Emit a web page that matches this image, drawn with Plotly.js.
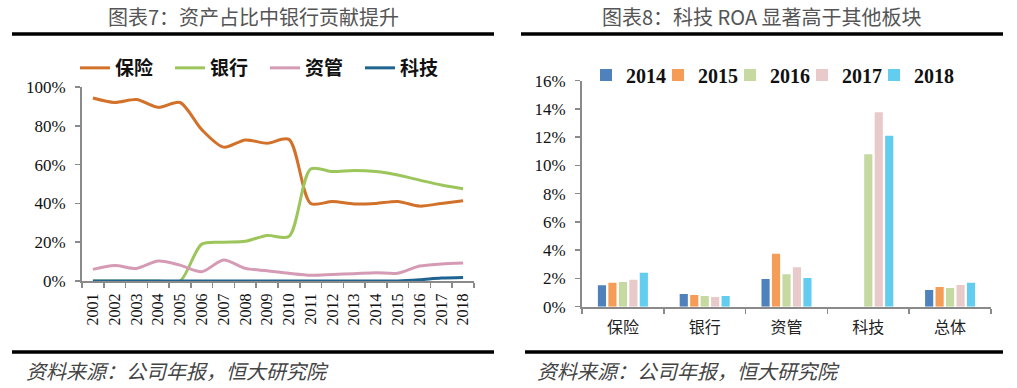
<!DOCTYPE html>
<html>
<head>
<meta charset="utf-8">
<script src="https://cdn.plot.ly/plotly-3.0.1.min.js"></script>
<style>
html,body{margin:0;padding:0;background:#fff;}
#chart{width:1017px;height:388px;}
#chart g.scrollbox{clip-path:none !important;}
</style>
</head>
<body>
<div id="chart"></div>
<script>
// ---- Chart 7 data: share of assets by segment ----
const years = ["2001","2002","2003","2004","2005","2006","2007","2008","2009","2010","2011","2012","2013","2014","2015","2016","2017","2018"];
const insurance = [0.943,0.920,0.935,0.895,0.920,0.780,0.690,0.727,0.710,0.730,0.400,0.410,0.397,0.400,0.410,0.386,0.400,0.414];
const banking   = [0,0,0,0,0,0.190,0.200,0.205,0.235,0.229,0.577,0.564,0.570,0.564,0.546,0.520,0.495,0.476];
const assetMgmt = [0.060,0.080,0.065,0.103,0.082,0.048,0.108,0.065,0.053,0.040,0.030,0.034,0.038,0.043,0.040,0.077,0.088,0.093];
const tech      = [0,0,0,0,0,0,0,0,0,0,0,0,0,0,0,0.006,0.015,0.018];
const lineNames = ["保险","银行","资管","科技"];

// ---- Chart 8 data: ROA by segment ----
const segments = ["保险","银行","资管","科技","总体"];
const roaYears = ["2014","2015","2016","2017","2018"];
const roa2014 = [0.0152,0.0090,0.0196,0,0.0118];
const roa2015 = [0.0170,0.0083,0.0374,0,0.0140];
const roa2016 = [0.0175,0.0076,0.0230,0.1080,0.0133];
const roa2017 = [0.0190,0.0069,0.0280,0.1376,0.0154];
const roa2018 = [0.0240,0.0076,0.0203,0.1210,0.0170];

const lineColors = ["#d2722a","#9cc55b","#d59bb4","#1f6491"];
const barColors  = ["#4f81bd","#f59d56","#c5d9a0","#e9caca","#63cdf0"];

const W = 1017, H = 388;
const px = v => v / W;
const py = v => 1 - v / H;

const lineSeries = [insurance, banking, assetMgmt, tech];
const traces = [];
lineSeries.forEach((s, i) => {
  traces.push({
    type: "scatter", mode: "lines", x: years, y: s, name: lineNames[i],
    xaxis: "x", yaxis: "y", legend: "legend",
    line: {color: lineColors[i], width: 3, shape: "spline", smoothing: 0.8},
    hoverinfo: "x+y"
  });
});
const roaSeries = [roa2014, roa2015, roa2016, roa2017, roa2018];
roaSeries.forEach((s, i) => {
  traces.push({
    type: "bar", x: segments, y: s, name: roaYears[i],
    xaxis: "x2", yaxis: "y2", legend: "legend2",
    marker: {color: barColors[i], line: {width: 0}}
  });
});

const serif = "Liberation Serif, Times New Roman, serif";
const cjk = "Noto Sans CJK SC, Noto Sans, sans-serif";
const axisCommon = {
  showgrid: false, zeroline: false, showline: true,
  linecolor: "#8a8a8a", linewidth: 2,
  ticks: "outside", ticklen: 5, tickwidth: 1.5, tickcolor: "#8a8a8a",
  fixedrange: true
};

const layout = {
  width: W, height: H,
  margin: {l: 0, r: 0, t: 0, b: 0},
  paper_bgcolor: "#ffffff", plot_bgcolor: "#ffffff",
  showlegend: true,
  barmode: "group", bargap: 0.36, bargroupgap: 0.22,
  xaxis: Object.assign({}, axisCommon, {
    domain: [px(82), px(474)], anchor: "y", type: "category",
    range: [-0.5, years.length - 0.5],
    tickson: "boundaries", tickangle: -90, ticklabelstandoff: 4,
    tickfont: {family: serif, size: 16, color: "#111"}
  }),
  yaxis: Object.assign({}, axisCommon, {
    domain: [py(281), py(87)], anchor: "x", range: [0, 1.0],
    dtick: 0.2, tickformat: ".0%", ticklabelstandoff: 6,
    tickfont: {family: serif, size: 17, color: "#111"}
  }),
  xaxis2: Object.assign({}, axisCommon, {
    domain: [px(582), px(991)], anchor: "y2", type: "category",
    tickson: "boundaries", ticklabelstandoff: 5,
    tickfont: {family: cjk, size: 16, color: "#222"}
  }),
  yaxis2: Object.assign({}, axisCommon, {
    domain: [py(306.7), py(80.7)], anchor: "x2", range: [0, 0.16],
    dtick: 0.02, tickformat: ".0%", ticklabelstandoff: 6,
    tickfont: {family: serif, size: 17, color: "#111"}
  }),
  legend: {
    orientation: "h", x: px(75), xanchor: "left", y: py(68), yanchor: "middle",
    font: {family: cjk, size: 19, color: "#111", weight: "bold"},
    bgcolor: "rgba(0,0,0,0)", entrywidth: 50, entrywidthmode: "pixels",
    itemclick: false, itemdoubleclick: false
  },
  legend2: {
    orientation: "h", x: px(586), xanchor: "left", y: py(75), yanchor: "middle",
    font: {family: serif, size: 20, color: "#111", weight: "bold"},
    bgcolor: "rgba(0,0,0,0)", entrywidth: 27, entrywidthmode: "pixels",
    itemclick: false, itemdoubleclick: false
  },
  shapes: [
    {type: "line", xref: "paper", yref: "paper", x0: px(12), x1: px(494), y0: py(34), y1: py(34), line: {color: "#000", width: 3.5}},
    {type: "line", xref: "paper", yref: "paper", x0: px(521), x1: px(1003), y0: py(34), y1: py(34), line: {color: "#000", width: 3.5}},
    {type: "line", xref: "paper", yref: "paper", x0: px(12), x1: px(494), y0: py(352), y1: py(352), line: {color: "#000", width: 3.5}},
    {type: "line", xref: "paper", yref: "paper", x0: px(525), x1: px(1003), y0: py(352), y1: py(352), line: {color: "#000", width: 3.5}}
  ],
  annotations: [
    {text: "图表7：资产占比中银行贡献提升", xref: "paper", yref: "paper", x: px(253), y: py(17), xanchor: "center", yanchor: "middle", showarrow: false,
     font: {family: cjk, size: 20, color: "#555"}},
    {text: "图表8：科技 ROA 显著高于其他板块", xref: "paper", yref: "paper", x: px(762), y: py(17), xanchor: "center", yanchor: "middle", showarrow: false,
     font: {family: cjk, size: 20, color: "#555"}},
    {text: "<i>资料来源：公司年报，恒大研究院</i>", xref: "paper", yref: "paper", x: px(24), y: py(370), xanchor: "left", yanchor: "middle", showarrow: false,
     font: {family: cjk, size: 20, color: "#444"}},
    {text: "<i>资料来源：公司年报，恒大研究院</i>", xref: "paper", yref: "paper", x: px(535), y: py(370), xanchor: "left", yanchor: "middle", showarrow: false,
     font: {family: cjk, size: 20, color: "#444"}}
  ]
};

Plotly.newPlot("chart", traces, layout, {displayModeBar: false, staticPlot: true});
</script>
</body>
</html>
